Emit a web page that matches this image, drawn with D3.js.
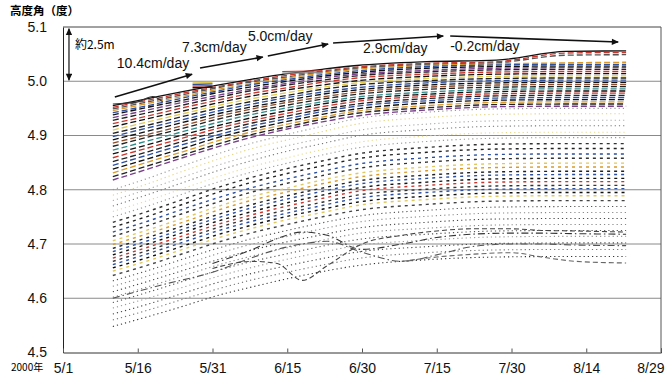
<!DOCTYPE html>
<html><head><meta charset="utf-8">
<script src="https://cdn.jsdelivr.net/npm/d3@7"></script>
<style>body{margin:0;background:#fff}svg{display:block}</style>
</head><body><svg id="c" width="668" height="382"></svg>
<script>
// ---------- data ----------
const dates = ["5/11","5/18","5/25","6/1","6/8","6/15","6/22","6/29","7/13","7/27","8/10","8/22"];

const upperValues = [
 [4.955,4.968,4.981,4.993,5.004,5.014,5.022,5.029,5.036,5.039,5.055,5.056],
 [4.952,4.965,4.978,4.990,5.001,5.011,5.019,5.026,5.033,5.036,5.052,5.053],
 [4.949,4.962,4.975,4.988,4.999,5.008,5.017,5.024,5.031,5.034,5.048,5.049],
 [4.946,4.959,4.972,4.985,4.996,5.006,5.015,5.022,5.029,5.032,5.034,5.035],
 [4.942,4.955,4.969,4.982,4.994,5.003,5.012,5.019,5.027,5.030,5.031,5.031],
 [4.938,4.952,4.965,4.979,4.990,5.000,5.009,5.016,5.024,5.027,5.028,5.028],
 [4.933,4.947,4.961,4.974,4.986,4.996,5.006,5.013,5.020,5.024,5.025,5.025],
 [4.928,4.942,4.956,4.970,4.983,4.993,5.002,5.010,5.017,5.021,5.022,5.022],
 [4.922,4.936,4.951,4.965,4.978,4.988,4.998,5.006,5.013,5.017,5.018,5.018],
 [4.916,4.931,4.945,4.960,4.973,4.984,4.993,5.001,5.009,5.013,5.014,5.014],
 [4.910,4.925,4.940,4.955,4.968,4.979,4.989,4.997,5.005,5.009,5.010,5.010],
 [4.904,4.919,4.935,4.950,4.963,4.974,4.985,4.993,5.001,5.005,5.006,5.006],
 [4.898,4.914,4.929,4.945,4.958,4.970,4.980,4.988,4.997,5.001,5.002,5.002],
 [4.892,4.908,4.924,4.940,4.953,4.965,4.976,4.984,4.993,4.997,4.998,4.998],
 [4.886,4.902,4.918,4.935,4.949,4.961,4.971,4.980,4.989,4.993,4.994,4.994],
 [4.880,4.897,4.913,4.930,4.944,4.956,4.967,4.976,4.985,4.989,4.990,4.990],
 [4.873,4.890,4.907,4.924,4.939,4.951,4.962,4.971,4.980,4.985,4.986,4.986],
 [4.866,4.883,4.901,4.918,4.933,4.946,4.958,4.967,4.976,4.981,4.982,4.982],
 [4.859,4.877,4.895,4.913,4.928,4.941,4.953,4.963,4.972,4.977,4.978,4.978],
 [4.852,4.870,4.889,4.907,4.923,4.936,4.948,4.958,4.968,4.973,4.974,4.974],
 [4.845,4.864,4.883,4.901,4.918,4.931,4.944,4.954,4.964,4.969,4.970,4.970],
 [4.838,4.857,4.876,4.896,4.912,4.926,4.939,4.949,4.960,4.965,4.966,4.966],
 [4.831,4.851,4.870,4.890,4.907,4.921,4.934,4.945,4.955,4.961,4.962,4.962],
 [4.824,4.844,4.864,4.884,4.902,4.916,4.930,4.941,4.951,4.957,4.958,4.958],
 [4.818,4.838,4.859,4.879,4.897,4.912,4.925,4.936,4.947,4.953,4.954,4.954]
];

const lowerValues = [
 [4.800,4.821,4.844,4.866,4.886,4.902,4.917,4.931,4.943,4.949,4.950,4.950],
 [4.790,4.811,4.834,4.856,4.876,4.892,4.907,4.921,4.933,4.939,4.940,4.940],
 [4.780,4.801,4.823,4.845,4.864,4.881,4.895,4.909,4.921,4.927,4.928,4.928],
 [4.770,4.791,4.813,4.835,4.854,4.871,4.885,4.899,4.911,4.917,4.918,4.918],
 [4.760,4.780,4.802,4.824,4.843,4.859,4.874,4.887,4.899,4.905,4.906,4.906],
 [4.750,4.770,4.792,4.814,4.833,4.849,4.864,4.877,4.889,4.895,4.896,4.896],
 [4.740,4.760,4.782,4.804,4.823,4.839,4.853,4.866,4.878,4.884,4.885,4.885],
 [4.731,4.751,4.773,4.795,4.814,4.830,4.844,4.857,4.869,4.875,4.876,4.876],
 [4.722,4.742,4.764,4.785,4.804,4.820,4.834,4.847,4.859,4.865,4.866,4.866],
 [4.714,4.734,4.756,4.777,4.796,4.812,4.826,4.839,4.851,4.857,4.858,4.858],
 [4.706,4.726,4.747,4.769,4.788,4.803,4.818,4.830,4.842,4.848,4.849,4.849],
 [4.699,4.719,4.740,4.762,4.781,4.796,4.811,4.823,4.835,4.841,4.842,4.842],
 [4.692,4.712,4.733,4.754,4.773,4.789,4.803,4.816,4.827,4.833,4.834,4.834],
 [4.686,4.706,4.727,4.748,4.767,4.783,4.797,4.810,4.821,4.827,4.828,4.828],
 [4.680,4.700,4.721,4.742,4.760,4.776,4.790,4.803,4.814,4.820,4.821,4.821],
 [4.674,4.694,4.715,4.736,4.754,4.770,4.784,4.797,4.808,4.814,4.815,4.815],
 [4.668,4.688,4.709,4.730,4.748,4.763,4.777,4.790,4.801,4.807,4.808,4.808],
 [4.662,4.682,4.703,4.724,4.742,4.757,4.771,4.784,4.795,4.801,4.802,4.802],
 [4.656,4.675,4.696,4.717,4.735,4.751,4.764,4.777,4.788,4.794,4.795,4.795],
 [4.650,4.669,4.690,4.711,4.729,4.745,4.758,4.771,4.782,4.788,4.789,4.789],
 [4.642,4.661,4.682,4.703,4.721,4.736,4.750,4.762,4.773,4.779,4.780,4.780],
 [4.632,4.651,4.672,4.692,4.710,4.725,4.739,4.751,4.762,4.768,4.769,4.769],
 [4.622,4.641,4.661,4.682,4.700,4.714,4.728,4.740,4.751,4.757,4.758,4.758],
 [4.612,4.631,4.651,4.671,4.689,4.704,4.717,4.729,4.740,4.746,4.747,4.747],
 [4.602,4.621,4.641,4.661,4.678,4.693,4.707,4.719,4.729,4.735,4.736,4.736],
 [4.592,4.611,4.631,4.651,4.668,4.682,4.696,4.708,4.718,4.724,4.725,4.725],
 [4.582,4.600,4.620,4.640,4.657,4.672,4.685,4.697,4.707,4.713,4.714,4.714],
 [4.571,4.589,4.609,4.629,4.646,4.660,4.673,4.685,4.695,4.701,4.702,4.702],
 [4.560,4.578,4.598,4.617,4.634,4.648,4.661,4.673,4.684,4.689,4.690,4.690],
 [4.548,4.566,4.585,4.605,4.621,4.636,4.649,4.660,4.671,4.676,4.677,4.677]
];

const irregularDates = ["5/11","5/21","5/31","6/8","6/13","6/18","6/23","6/30","7/8","7/15","7/22","7/30","8/5","8/12","8/22"];
const irregularValues = [
 [4.600,4.625,4.648,4.675,4.690,4.700,4.705,4.685,4.668,4.680,4.695,4.700,4.700,4.698,4.697],
 [null,null,4.655,4.668,4.664,4.633,4.660,4.700,4.716,4.724,4.728,4.728,4.725,4.724,4.722],
 [null,null,null,null,null,null,null,null,4.668,4.676,4.681,4.684,4.676,4.668,4.665],
 [null,null,4.664,4.690,4.710,4.722,4.716,4.690,4.700,4.712,4.718,4.720,4.720,4.719,4.718]
];

const shortDatesA = ["5/27","5/31"];
const shortValuesA = [[4.997,4.998],[4.994,4.995],[4.991,4.992],[4.988,4.989]];
const shortDatesB = ["6/14","6/22"];
const shortValuesB = [[5.018,5.019],[5.015,5.016]];
const bumpDates = ["5/11","5/16","5/19","5/21"];
const bumpValues = [4.958,4.962,4.972,4.962];

const yTicks = [4.5,4.6,4.7,4.8,4.9,5.0,5.1];
const xTicks = ["5/1","5/16","5/31","6/15","6/30","7/15","7/30","8/14","8/29"];

// annotations: [label, day offset from 5/1, value]
const rateLabels = [["10.4cm/day",10.8,5.0244],["7.3cm/day",23.9,5.0539],["5.0cm/day",37.1,5.0742],["2.9cm/day",60.2,5.052],["-0.2cm/day",77.7,5.0557]];
const rateArrows = [[10.4,4.971,25.9,5.013],[27.5,5.0244,40.1,5.0446],[41.1,5.0465,53.2,5.0686],[54.2,5.0705,76.3,5.0834],[77.7,5.0834,111.4,5.0723]];

// ---------- styles ----------
const upperColors = ["#111","#c8362e","#555","#d99a2b","#2c4f9e","#111","#7b3f8c","#222","#c8362e","#111","#e2c84a","#222","#2c4f9e","#111","#8a4b2a","#222","#2f8a8a","#111","#c8362e","#222","#2c4f9e","#111","#d99a2b","#222","#7b3f8c"];
const lowerColors = ["#999","#e3d27a","#aaa","#777","#e8d98a","#999",
  "#333","#222","#2c4f9e","#333","#e0c860","#d99a2b","#222","#2c4f9e","#111","#c8362e","#333","#2c4f9e","#111","#e0c860","#444",
  "#555","#888","#444","#888","#555","#999","#444","#777","#333"];

// ---------- setup ----------
const parse = d3.timeParse("%Y/%m/%d");
const toDate = s => parse("2000/" + s);
const t0 = toDate("5/1");
const dayToDate = d => new Date(t0.getTime() + d * 864e5);

const svg = d3.select("#c");
const x = d3.scaleTime().domain([toDate("5/1"), toDate("8/29")]).range([63, 661]);
const y = d3.scaleLinear().domain([4.5, 5.1]).range([352.5, 27]);

// grid
svg.append("g").selectAll("line").data(yTicks.slice(1)).join("line")
  .attr("x1", 63).attr("x2", 661).attr("y1", d => y(d)).attr("y2", d => y(d))
  .attr("stroke", d => d === 5.1 ? "#444" : "#8a8a8a").attr("stroke-width", 1);
svg.append("line").attr("x1", 661).attr("x2", 661).attr("y1", y(5.1)).attr("y2", y(4.5)).attr("stroke", "#555");

// axes
const yAxis = svg.append("g").attr("transform", "translate(63,0)")
  .call(d3.axisLeft(y).tickValues(yTicks).tickSize(0).tickPadding(16).tickFormat(d3.format(".1f")));
yAxis.select(".domain").attr("stroke", "#222");
yAxis.selectAll("text").attr("font-family", "Liberation Sans, Arial, sans-serif").attr("font-size", 14).attr("fill", "#111");

const xAxis = svg.append("g").attr("transform", "translate(0,352.5)")
  .call(d3.axisBottom(x).tickValues(xTicks.map(toDate)).tickSize(-4).tickFormat(d3.timeFormat("%-m/%-d")));
xAxis.select(".domain").attr("stroke", "#333");
xAxis.selectAll(".tick line").attr("stroke", "#555");
xAxis.selectAll("text").attr("font-family", "Liberation Sans, Arial, sans-serif").attr("font-size", 14).attr("fill", "#111")
  .attr("y", 20).attr("dy", null);
xAxis.selectAll(".tick").filter((d, i) => i === xTicks.length - 1).select("text").attr("text-anchor", "end").attr("x", 3);

svg.append("text").attr("x", 11).attr("y", 371).attr("font-family", "Noto Sans CJK JP, sans-serif").attr("font-size", 10).text("2000年");
svg.append("text").attr("x", 10).attr("y", 15).attr("font-family", "Noto Sans CJK JP, sans-serif").attr("font-size", 11.5).attr("font-weight", "bold").text("高度角（度）");

// lines
const line = d3.line().defined(d => d.v != null).x(d => x(d.date)).y(d => y(d.v)).curve(d3.curveMonotoneX);
const toPts = (ds, vs) => vs.map((v, i) => ({date: toDate(ds[i]), v}));

const gl = svg.append("g").attr("fill", "none");
gl.selectAll("path.low").data(lowerValues).join("path").attr("class", "low")
  .attr("d", vs => line(toPts(dates, vs)))
  .attr("stroke", (d, i) => lowerColors[i])
  .attr("stroke-width", (d, i) => (i >= 6 && i < 21) ? 1.4 : 1.1)
  .attr("stroke-dasharray", (d, i) => (i >= 6 && i < 21) ? "3,4" : "1.2,3");

gl.selectAll("path.up").data(upperValues).join("path").attr("class", "up")
  .attr("d", vs => line(toPts(dates, vs)))
  .attr("stroke", (d, i) => upperColors[i])
  .attr("stroke-width", (d, i) => i === 0 ? 1.3 : 1.35)
  .attr("stroke-dasharray", (d, i) => i === 0 ? null : "6,3");

gl.selectAll("path.irr").data(irregularValues).join("path").attr("class", "irr")
  .attr("d", vs => line(toPts(irregularDates, vs)))
  .attr("stroke", (d, i) => ["#555", "#444", "#666", "#333"][i])
  .attr("stroke-width", 1.1)
  .attr("stroke-dasharray", (d, i) => ["7,3,1.5,3", "5,3", "5,3", "7,3,1.5,3"][i]);

gl.selectAll("path.sa").data(shortValuesA).join("path").attr("class", "sa")
  .attr("d", vs => line(toPts(shortDatesA, vs)))
  .attr("stroke", (d, i) => ["#e2c84a", "#2c4f9e", "#c8362e", "#111"][i]).attr("stroke-width", 1.3);
gl.selectAll("path.sb").data(shortValuesB).join("path").attr("class", "sb")
  .attr("d", vs => line(toPts(shortDatesB, vs)))
  .attr("stroke", (d, i) => ["#c8362e", "#888"][i]).attr("stroke-width", 1.2);
gl.append("path").attr("d", line(toPts(bumpDates, bumpValues))).attr("stroke", "#333").attr("stroke-width", 1.1);

// annotations
const defs = svg.append("defs");
defs.append("marker").attr("id", "ah").attr("viewBox", "0 0 10 10").attr("refX", 9).attr("refY", 5)
  .attr("markerUnits", "userSpaceOnUse").attr("markerWidth", 10).attr("markerHeight", 7)
  .attr("orient", "auto-start-reverse")
  .append("path").attr("d", "M0,0.5 L10,5 L0,9.5 z").attr("fill", "#111");

svg.append("g").selectAll("line").data(rateArrows).join("line")
  .attr("x1", d => x(dayToDate(d[0]))).attr("y1", d => y(d[1]))
  .attr("x2", d => x(dayToDate(d[2]))).attr("y2", d => y(d[3]))
  .attr("stroke", "#111").attr("stroke-width", 1.6).attr("marker-end", "url(#ah)");

svg.append("line").attr("x1", x(dayToDate(1.2))).attr("x2", x(dayToDate(1.2)))
  .attr("y1", y(5.097)).attr("y2", y(5.002)).attr("stroke", "#111").attr("stroke-width", 1.2)
  .attr("marker-start", "url(#ah)").attr("marker-end", "url(#ah)");

svg.append("text").attr("x", x(dayToDate(2.4))).attr("y", y(5.0594))
  .attr("font-family", "Noto Sans CJK JP, sans-serif").attr("font-size", 12).text("約2.5m");

svg.append("g").selectAll("text").data(rateLabels).join("text")
  .attr("x", d => x(dayToDate(d[1]))).attr("y", d => y(d[2]))
  .attr("font-family", "Liberation Sans, Arial, sans-serif").attr("font-size", 14).attr("fill", "#111")
  .text(d => d[0]);
</script></body></html>
